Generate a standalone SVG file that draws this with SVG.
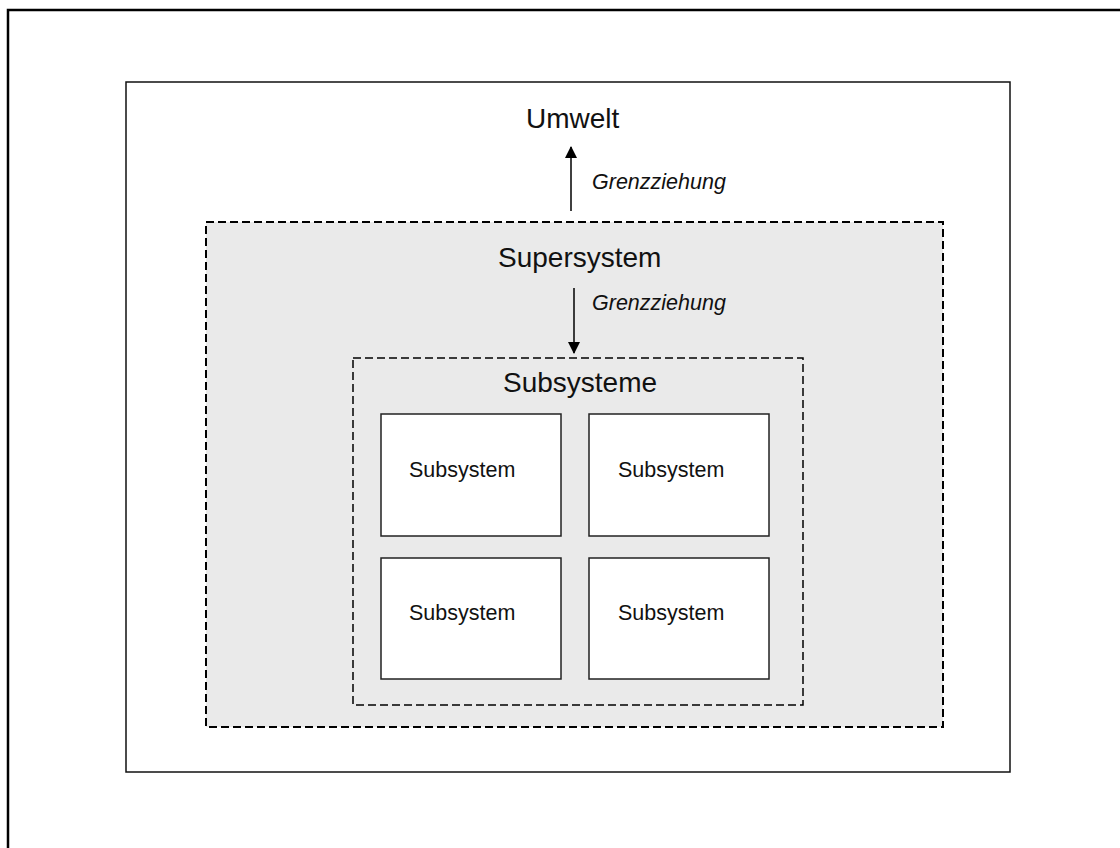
<svg xmlns="http://www.w3.org/2000/svg" width="1120" height="848" viewBox="0 0 1120 848">
  <defs>
    <marker id="arrow" viewBox="0 0 12 12" refX="11" refY="6" markerWidth="12" markerHeight="13" markerUnits="userSpaceOnUse" orient="auto">
      <path d="M0,0 L12,6 L0,12 Z" fill="#000"/>
    </marker>
    <style>
      .label { font-family: "Liberation Sans", Arial, sans-serif; fill: #111; }
      .big { font-size: 28px; }
      .small { font-size: 21.5px; }
      .italic { font-size: 21.5px; font-style: italic; }
      .box { fill: #fff; stroke: #222; stroke-width: 1.5; }
      .dashed { fill: #eaeaea; stroke: #000; stroke-dasharray: 8 4; }
      .conn { stroke: #000; stroke-width: 1.5; fill: none; }
    </style>
  </defs>

  <rect width="1120" height="848" fill="#fff"/>

  <!-- page frame -->
  <rect x="8" y="10" width="1200" height="1000" fill="none" stroke="#000" stroke-width="2.5"/>

  <!-- environment -->
  <g id="umwelt">
    <rect x="126" y="82" width="884" height="690" fill="#fff" stroke="#111" stroke-width="1.5"/>
    <text class="label big" x="526" y="128">Umwelt</text>
  </g>

  <!-- supersystem -->
  <g id="supersystem">
    <rect class="dashed" x="206" y="222" width="737" height="505" stroke-width="2"/>
    <text class="label big" x="498" y="267">Supersystem</text>
  </g>

  <!-- subsystems container -->
  <g id="subsysteme">
    <rect class="dashed" x="353" y="358" width="450" height="347" stroke-width="1.5" stroke-dasharray="6 4"/>
    <text class="label big" x="503" y="392">Subsysteme</text>
  </g>

  <g id="subsystem-1">
    <rect class="box" x="381" y="414" width="180" height="122"/>
    <text class="label small" x="409" y="477">Subsystem</text>
  </g>
  <g id="subsystem-2">
    <rect class="box" x="589" y="414" width="180" height="122"/>
    <text class="label small" x="618" y="477">Subsystem</text>
  </g>
  <g id="subsystem-3">
    <rect class="box" x="381" y="558" width="180" height="121"/>
    <text class="label small" x="409" y="620">Subsystem</text>
  </g>
  <g id="subsystem-4">
    <rect class="box" x="589" y="558" width="180" height="121"/>
    <text class="label small" x="618" y="620">Subsystem</text>
  </g>

  <!-- connectors -->
  <g id="connectors">
    <line class="conn" x1="571" y1="211" x2="571" y2="147" marker-end="url(#arrow)"/>
    <text class="label italic" x="592" y="189">Grenzziehung</text>
    <line class="conn" x1="574" y1="288" x2="574" y2="353" marker-end="url(#arrow)"/>
    <text class="label italic" x="592" y="310">Grenzziehung</text>
  </g>
</svg>
